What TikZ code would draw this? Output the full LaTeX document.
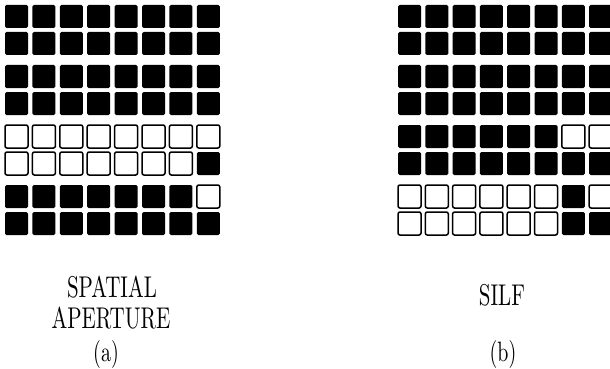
\documentclass[tikz,border=0pt]{standalone}
\usepackage{tikz}

\begin{document}
\begin{tikzpicture}[
    x=1pt, y=-1pt,
    cellon/.style  = {fill=black, rounded corners=1.5pt},
    celloff/.style = {draw=black, line width=1.5pt, fill=white, rounded corners=2pt},
    lbl/.style     = {font=\fontsize{10}{10}\selectfont, xscale=2.1, yscale=3, inner sep=0pt, anchor=base},
    tag/.style     = {font=\fontsize{10}{10}\selectfont, xscale=2.0, yscale=2.8, inner sep=0pt, anchor=base}
  ]
  \useasboundingbox (0,0) rectangle (610,369);

  %% both grids: 8 columns, rows come in pairs
  \foreach \gx/\px in {5/27.4, 398/27.3}{
    \foreach \y in {5,32,65,92,125,152,185,212}{
      \foreach \c in {0,...,7}{
        \fill[cellon] (\gx+\c*\px, \y) rectangle ++(23,23);
      }
    }
  }

  %% (a) open cells
  \foreach \y/\c in {125/0,125/1,125/2,125/3,125/4,125/5,125/6,125/7,
                     152/0,152/1,152/2,152/3,152/4,152/5,152/6,185/7}{
    \draw[celloff] (5+\c*27.4, \y) rectangle ++(23,23);
  }

  %% (b) open cells
  \foreach \y/\c in {125/6,125/7,185/0,185/1,185/2,185/3,185/4,185/5,185/7,
                     212/0,212/1,212/2,212/3,212/4,212/5}{
    \draw[celloff] (398+\c*27.3, \y) rectangle ++(23,23);
  }

  %% captions
  \node[lbl] (spatial)  at (112, 297) {SPATIAL};
  \node[lbl] (aperture) at (111, 328) {APERTURE};
  \node[tag] (capa)     at (106, 361) {(a)};
  \node[lbl] (silf)     at (502, 305) {SILF};
  \node[tag] (capb)     at (503, 361) {(b)};
\end{tikzpicture}
\end{document}
